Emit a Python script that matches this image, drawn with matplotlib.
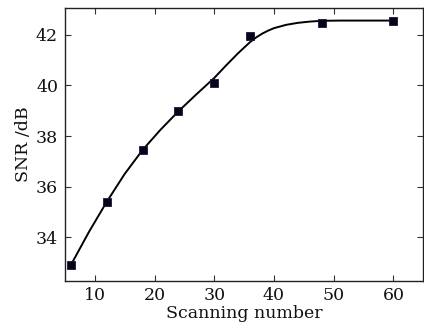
import matplotlib
matplotlib.use("Agg")
import matplotlib.pyplot as plt

# Measured data points
scan_x = [6, 12, 18, 24, 30, 36, 48, 60]
snr_y = [32.9, 35.37, 37.45, 38.99, 40.09, 41.97, 42.47, 42.55]

# Fitted curve
curve_x = [6, 9, 12, 15, 18, 21, 24, 27, 30, 32, 34, 35, 36, 37, 38, 39, 40, 42, 44, 46, 48, 51, 54, 57, 60]
curve_y = [32.9, 34.2, 35.4, 36.5, 37.45, 38.25, 38.98, 39.65, 40.3, 40.8, 41.28, 41.5, 41.72, 41.9,
           42.05, 42.17, 42.27, 42.4, 42.48, 42.53, 42.56, 42.57, 42.57, 42.57, 42.57]

xticks = [10, 20, 30, 40, 50, 60]
yticks = [34, 36, 38, 40, 42]

plt.rcParams['font.family'] = ['DejaVu Serif']

fig = plt.figure(figsize=(4.24, 3.31), dpi=100)
ax = fig.add_axes([0.1533, 0.151, 0.845, 0.825])

ax.plot(curve_x, curve_y, color='black', lw=1.4, solid_capstyle='round', solid_joinstyle='round')
ax.plot(scan_x, snr_y, linestyle='none', marker='s', markersize=6,
        markerfacecolor='#050515', markeredgecolor='#1a1440', markeredgewidth=0.6)

ax.set_xlim(5, 65)
ax.set_ylim(32.26, 43.07)
ax.set_xticks(xticks)
ax.set_yticks(yticks)
ax.tick_params(direction='in', top=True, right=True, length=4, width=0.8,
               labelsize=12.5, colors='#333333', labelcolor='#111111')
ax.tick_params(axis='x', pad=4)
ax.tick_params(axis='y', pad=5)
for s in ax.spines.values():
    s.set_linewidth(1.0)
    s.set_color('#222222')

ax.set_xlabel('Scanning number', fontsize=12.5, labelpad=1, color='#111111')
ax.set_ylabel('SNR /dB', fontsize=12.5, labelpad=3, color='#111111')

fig.savefig('out.png', dpi=100)
